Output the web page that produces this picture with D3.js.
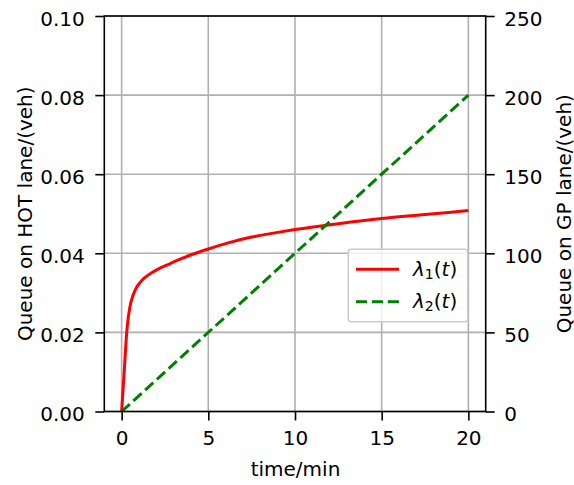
<!DOCTYPE html>
<html>
<head>
<meta charset="utf-8">
<script src="https://cdn.jsdelivr.net/npm/d3@7"></script>
<style>
html,body{margin:0;padding:0;background:#fff;}
svg{display:block;font-family:"DejaVu Sans",sans-serif;}
</style>
</head>
<body>
<svg id="chart" width="574" height="485"></svg>
<script>
// ---- data ----
const lambda1T = [0, 0.15, 0.29, 0.38, 0.48, 0.67, 0.85, 1.06, 1.3, 1.63, 2.1, 2.6, 3.2, 3.94, 5, 6.2, 7.5, 8.75, 10, 12.5, 15, 17.5, 20];
const lambda1V = [0, 0.0102, 0.0198, 0.0237, 0.0265, 0.0295, 0.0313, 0.0326, 0.0337, 0.0348, 0.0360, 0.0370, 0.0382, 0.0395, 0.0411, 0.0427, 0.0441, 0.0451, 0.0460, 0.0475, 0.0488, 0.0498, 0.0508];
const lambda2T = [0, 20];
const lambda2V = [0, 200];
const xTicks = [0, 5, 10, 15, 20];
const yLeftTicks = [0, 0.02, 0.04, 0.06, 0.08, 0.10];
const yRightTicks = [0, 50, 100, 150, 200, 250];
const xLabel = "time/min";
const yLeftLabel = "Queue on HOT lane/(veh)";
const yRightLabel = "Queue on GP lane/(veh)";

// ---- layout ----
const L = 104.3, R = 485.7, T = 16, B = 411.5;
const svg = d3.select("#chart");
const x = d3.scaleLinear().domain([-1, 21]).range([L, R]);
const yL = d3.scaleLinear().domain([0, 0.10]).range([B, T]);
const yR = d3.scaleLinear().domain([0, 250]).range([B, T]);
const FS = 20;

// grid
const grid = svg.append("g").attr("stroke", "#b0b0b0").attr("stroke-width", 1.6);
grid.selectAll(".gx").data(xTicks).join("line")
  .attr("x1", d => x(d)).attr("x2", d => x(d)).attr("y1", T).attr("y2", B);
grid.selectAll(".gy").data(yLeftTicks).join("line")
  .attr("y1", d => yL(d)).attr("y2", d => yL(d)).attr("x1", L).attr("x2", R);

// lines
const l1 = lambda1T.map((t, i) => [t, lambda1V[i]]);
const l2 = lambda2T.map((t, i) => [t, lambda2V[i]]);
svg.append("path").datum(l1)
  .attr("d", d3.line().x(d => x(d[0])).y(d => yL(d[1])).curve(d3.curveMonotoneX))
  .attr("fill", "none").attr("stroke", "#ff0000").attr("stroke-width", 3)
  .attr("stroke-linejoin", "round");
svg.append("path").datum(l2)
  .attr("d", d3.line().x(d => x(d[0])).y(d => yR(d[1])))
  .attr("fill", "none").attr("stroke", "#008000").attr("stroke-width", 3)
  .attr("stroke-dasharray", "11.1,4.8");

// axes
function styleAxis(g) {
  g.select(".domain").remove();
  g.selectAll(".tick line").attr("stroke", "#000").attr("stroke-width", 1.6);
  g.selectAll(".tick text").attr("fill", "#000").attr("font-size", FS)
    .attr("font-family", "DejaVu Sans");
}
svg.append("g").attr("transform", `translate(0,${B})`)
  .call(d3.axisBottom(x).tickValues(xTicks).tickFormat(d3.format("d")).tickSize(9).tickPadding(10))
  .call(styleAxis)
  .call(g => g.selectAll(".tick text").attr("dy", null).attr("y", 33.5));
svg.append("g").attr("transform", `translate(${L},0)`)
  .call(d3.axisLeft(yL).tickValues(yLeftTicks).tickFormat(d3.format(".2f")).tickSize(9).tickPadding(10))
  .call(styleAxis)
  .call(g => g.selectAll(".tick text").attr("dy", null).attr("y", 9).attr("x", -19.5));
svg.append("g").attr("transform", `translate(${R},0)`)
  .call(d3.axisRight(yR).tickValues(yRightTicks).tickFormat(d3.format("d")).tickSize(9).tickPadding(10))
  .call(styleAxis)
  .call(g => g.selectAll(".tick text").attr("dy", null).attr("y", 9).attr("x", 18.5));

// spines
svg.append("rect").attr("x", L).attr("y", T).attr("width", R - L).attr("height", B - T)
  .attr("fill", "none").attr("stroke", "#000").attr("stroke-width", 1.6);

// labels
svg.append("text").attr("x", (L + R) / 2 + 0.5).attr("y", 475.5).attr("text-anchor", "middle")
  .attr("font-size", FS).text(xLabel);
svg.append("text").attr("transform", `translate(31.5,${(T + B) / 2}) rotate(-90)`)
  .attr("text-anchor", "middle").attr("font-size", FS).text(yLeftLabel);
svg.append("text").attr("transform", `translate(570.5,${(T + B) / 2}) rotate(-90)`)
  .attr("text-anchor", "middle").attr("font-size", FS).text(yRightLabel);

// legend
const leg = svg.append("g");
leg.append("rect").attr("x", 348.3).attr("y", 249.3).attr("width", 119.4).attr("height", 72.4)
  .attr("rx", 3).attr("fill", "#fff").attr("fill-opacity", 0.8)
  .attr("stroke", "#cccccc").attr("stroke-width", 1.6);
const legItems = [
  { sub: "1", color: "#ff0000", dash: null, y: 269.3 },
  { sub: "2", color: "#008000", dash: "11.1,4.8", y: 301.7 }
];
legItems.forEach(it => {
  leg.append("line").attr("x1", 356).attr("x2", 399).attr("y1", it.y).attr("y2", it.y)
    .attr("stroke", it.color).attr("stroke-width", 3).attr("stroke-dasharray", it.dash);
  const t = leg.append("text").attr("x", 413).attr("y", it.y + 6.5).attr("font-size", FS);
  t.append("tspan").attr("font-style", "italic").text("λ");
  t.append("tspan").attr("font-size", 14).attr("dy", 3).text(it.sub);
  t.append("tspan").attr("dy", -3).text("(");
  t.append("tspan").attr("font-style", "italic").text("t");
  t.append("tspan").text(")");
});
</script>
</body>
</html>
